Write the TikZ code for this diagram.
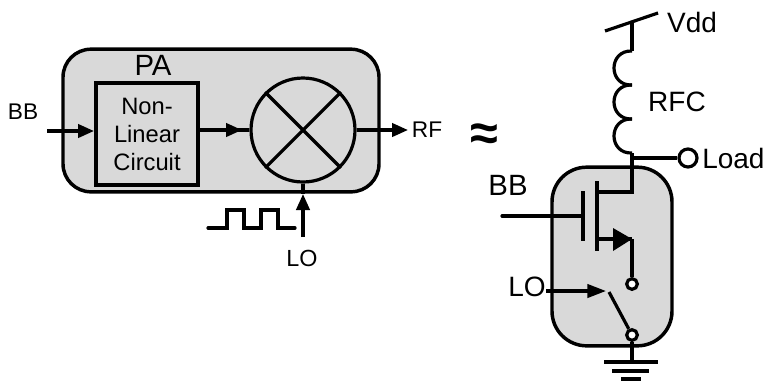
\documentclass[tikz,border=0pt]{standalone}
\usepackage{fontspec}
\setmainfont{Liberation Sans}
\usetikzlibrary{arrows.meta}
\newcount\mycount
\newcount\endcount
\tikzset{
 wire/.style={line width=2.4pt},
 sig/.style={wire,-{Triangle[length=12pt,width=10pt]}},
 blockbox/.style={draw,line width=2.6pt,fill=black!15,rounded corners=21pt,inner sep=0pt},
 pin/.style={draw,circle,line width=2.4pt,fill=white,inner sep=0pt},
 lab/.style={inner sep=0pt,font=\fontsize{#1}{#1}\selectfont},
}
\begin{document}
\begin{tikzpicture}[x=0.75pt,y=-0.75pt]
\useasboundingbox (0,0) rectangle (766,380);
% left block
\node [blockbox,minimum width=237pt,minimum height=107pt] (PA) at (221,120.5) {};
\node [draw,line width=3pt,minimum width=76.5pt,minimum height=76.5pt,inner sep=0pt,align=center,font=\fontsize{17.8}{21}\selectfont] (NL) at (147,134) {Non-\\Linear\\Circuit};
\node [draw,circle,line width=2.4pt,minimum size=78pt,inner sep=0pt] (MIX) at (303,130) {};
\node [lab=22] (PAtext) at (153,65) {PA};
\node [lab=17] (BBa) at (23,112) {BB};
\node [lab=17] (RF) at (427,130) {RF};
\node [lab=17.5] (LOa) at (302,258) {LO};
\coordinate (BBin) at (47,131);
\coordinate (MIXtip) at (242,130);
\coordinate (RFend) at (408,130);
\coordinate (LOin) at (303,237);
\coordinate (LOtip) at (303,194);
\draw[sig] (BBin) -- (BBin-|NL.west);
\draw[wire] (NL.east|-MIX) -- (MIX.west);
\draw[sig] (NL.east|-MIX) -- (MIXtip); % tip sits on the line
\draw[sig] (MIX.east) -- (RFend);
\draw[sig] (LOin) -- (LOtip);
\draw[wire] (MIX.south) -- (PA.south-|MIX);
\draw[wire] (MIX.45) -- (MIX.225);
\draw[wire] (MIX.135) -- (MIX.315);
\draw[wire,line cap=round] (208,228) -- (227,228) -- (227,210) -- (244,210) -- (244,228) -- (261,228) -- (261,210) -- (278,210) -- (278,228) -- (295,228); % clock
\node [font=\fontsize{38}{38}\selectfont\bfseries] (APPROX) at (484,137) {≈};
% right block
\node [blockbox,minimum width=90pt,minimum height=134pt,rounded corners=26pt] (SW) at (612,256.5) {};
\node [lab=21] (VDD) at (692,22) {Vdd};
\node [lab=21] (RFC) at (677,102) {RFC};
\node [lab=21,anchor=west] (LOAD) at (702,158) {Load};
\node [lab=22] (BBb) at (508,185) {BB};
\node [lab=21] (LOb) at (527,287) {LO};
\coordinate (VDDa) at (605,31);
\coordinate (VDDb) at (658,13);
\coordinate (VDDc) at (632,22);
\draw[wire] (VDDa) -- (VDDb);
\foreach \number in {1,...,4}{
 \mycount=\number
 \advance\mycount by -1
 \multiply\mycount by 34
 \advance\mycount by 51
 \coordinate (L-\number) at (632,\the\mycount);
}
\draw[wire] (VDDc) -- (L-1);
\foreach \number in {1,...,3}{
 \mycount=\number
 \advance\mycount by 1
 \draw[wire] (L-\number) .. controls +(-24,-1) and +(-24,1) .. (L-\the\mycount); % one turn
}
\coordinate (J) at (632,158);
\coordinate (D) at (632,192);
\coordinate (S) at (632,239);
\node [pin,minimum size=13.5pt] (LOADpin) at (688,158) {};
\draw[wire] (L-4) -- (J) -- (D) -- (597,192);
\draw[wire] (J) -- (LOADpin);
\coordinate (CHa) at (597,181);
\coordinate (CHb) at (597,251);
\coordinate (Ga) at (583,191);
\coordinate (Gb) at (583,241);
\coordinate (Gin) at (502,216);
\coordinate (Gm) at (583,216);
\draw[wire] (CHa) -- (CHb);
\draw[wire] (Ga) -- (Gb);
\draw[wire,line cap=round] (Gin) -- (Gm);
\coordinate (Tb) at (613,228);
\coordinate (Tc) at (613,251);
\node [pin,minimum size=8pt] (SWa) at (632,284) {};
\node [pin,minimum size=8pt] (SWb) at (632,335) {};
\draw[wire] (597,239) -- (S);
\fill (S) -- (Tb) -- (Tc) -- cycle;
\draw[wire] (S) -- (SWa);
\coordinate (LOb-in) at (546,291);
\coordinate (LOb-tip) at (606,291);
\coordinate (SWarm) at (609,292);
\draw[wire,-{Triangle[length=14pt,width=10pt]}] (LOb-in) -- (LOb-tip);
\draw[wire] (SWarm) -- (SWb);
% ground
\coordinate (GND) at (632,362);
\draw[wire] (SWb) -- (GND);
\draw[wire] (604,362) -- (658,362);
\draw[wire] (612,371) -- (649,371);
\draw[wire] (621,379) -- (641,379);
\end{tikzpicture}
\end{document}
